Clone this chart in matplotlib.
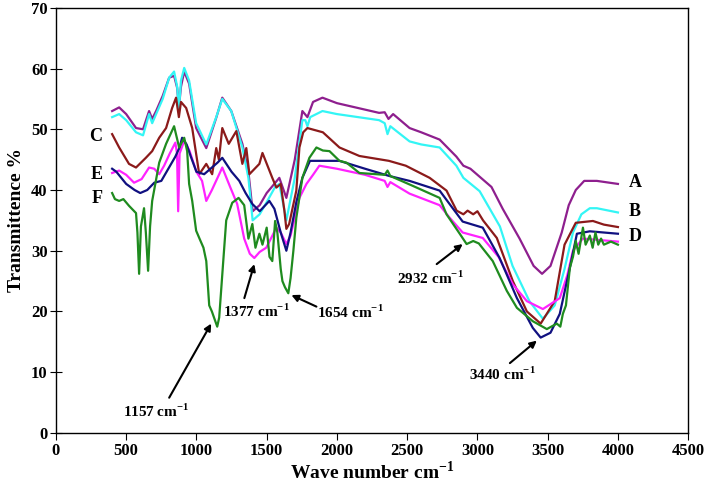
import matplotlib
matplotlib.use("Agg")
import matplotlib.pyplot as plt

plt.rcParams['font.family'] = ['Liberation Serif', 'DejaVu Serif']
plt.rcParams['font.weight'] = 'bold'
plt.rcParams['mathtext.fontset'] = 'custom'
plt.rcParams['mathtext.rm'] = 'Liberation Serif:bold'
plt.rcParams['mathtext.bf'] = 'Liberation Serif:bold'

# spectra: (wavenumber, transmittance %)
wn_A = [400, 450, 500, 570, 620, 663, 685, 713, 760, 806, 841, 863, 875, 890, 913, 948, 998, 1070, 1141, 1184,
        1248, 1327, 1370, 1400, 1450, 1500, 1590, 1640, 1700, 1754, 1790, 1830, 1897, 2000, 2150, 2300, 2340,
        2367, 2400, 2517, 2600, 2731, 2850, 2900, 2950, 3000, 3100, 3180, 3300, 3400, 3460, 3520, 3600, 3650,
        3700, 3760, 3850, 4000]
t_A = [53.0, 53.6, 52.5, 50.2, 50.0, 53.0, 51.7, 53.0, 55.5, 58.5, 58.8, 56.8, 53.5, 57.0, 59.5, 57.5, 50.2,
       46.9, 51.9, 55.2, 53.0, 47.6, 43.0, 36.5, 37.5, 39.5, 42.0, 38.7, 45.0, 53.0, 52.0, 54.5, 55.2, 54.3, 53.5,
       52.7, 52.8, 51.7, 52.5, 50.2, 49.5, 48.3, 45.5, 44.0, 43.5, 42.5, 40.5, 36.9, 32.0, 27.5, 26.2, 27.5, 33.0,
       37.5, 40.0, 41.5, 41.5, 41.0]

wn_B = [400, 450, 500, 570, 620, 663, 685, 713, 760, 806, 841, 863, 875, 890, 913, 948, 998, 1070, 1141, 1184,
        1248, 1327, 1370, 1400, 1450, 1500, 1560, 1590, 1640, 1700, 1754, 1775, 1790, 1810, 1897, 2000, 2150,
        2300, 2340, 2360, 2380, 2517, 2600, 2731, 2850, 2900, 3016, 3160, 3250, 3370, 3466, 3550, 3620, 3680,
        3740, 3800, 3850, 4000]
t_B = [52.0, 52.5, 51.5, 49.5, 49.0, 52.5, 51.0, 52.5, 55.0, 58.5, 59.5, 57.0, 53.0, 58.0, 60.1, 58.0, 51.0,
       47.5, 52.0, 55.0, 53.0, 47.0, 42.0, 35.0, 36.0, 38.0, 40.5, 41.0, 35.0, 42.0, 51.5, 51.5, 50.5, 52.0, 53.0,
       52.5, 52.0, 51.5, 51.0, 49.2, 50.5, 48.0, 47.5, 47.0, 44.0, 42.0, 39.8, 34.0, 27.5, 21.7, 18.8, 21.0, 27.0,
       33.0, 36.0, 37.0, 37.0, 36.3]

wn_C = [400, 450, 520, 570, 640, 685, 735, 784, 827, 855, 875, 890, 927, 970, 1020, 1070, 1112, 1141, 1160, 1184,
        1230, 1284, 1327, 1355, 1377, 1448, 1470, 1540, 1569, 1600, 1626, 1640, 1660, 1711, 1733, 1760, 1790,
        1900, 2018, 2160, 2370, 2490, 2660, 2780, 2852, 2900, 2930, 2970, 3000, 3040, 3138, 3252, 3352, 3450,
        3550, 3620, 3700, 3822, 3900, 4000]
t_C = [49.2, 47.0, 44.3, 43.7, 45.3, 46.4, 48.6, 50.2, 53.5, 55.2, 52.0, 54.5, 53.5, 50.2, 42.6, 44.3, 42.6,
       46.9, 45.0, 50.2, 47.6, 49.7, 44.3, 46.9, 42.6, 44.3, 46.1, 42.0, 40.4, 41.0, 36.6, 33.6, 34.4, 39.9, 47.0,
       49.5, 50.2, 49.5, 47.0, 45.6, 44.8, 44.0, 42.0, 39.9, 36.6, 36.0, 36.6, 36.0, 36.5, 35.0, 32.1, 25.0, 20.0,
       18.0, 21.7, 31.0, 34.6, 34.9, 34.3, 33.9]

wn_D = [400, 430, 500, 560, 600, 650, 700, 750, 800, 850, 880, 898, 930, 960, 1000, 1055, 1100, 1150, 1184, 1250,
        1305, 1350, 1398, 1450, 1519, 1555, 1600, 1640, 1670, 1711, 1754, 1808, 1900, 2018, 2200, 2374, 2517,
        2731, 2824, 2895, 3038, 3158, 3281, 3394, 3450, 3520, 3586, 3658, 3708, 3800, 4000]
t_D = [43.5, 43.0, 41.0, 40.0, 39.5, 40.0, 41.2, 41.5, 43.5, 45.5, 47.0, 48.6, 47.5, 45.5, 43.0, 42.6, 43.5,
       44.5, 45.3, 43.0, 41.5, 39.5, 37.7, 36.5, 38.2, 36.9, 33.0, 30.0, 33.0, 38.0, 42.0, 44.8, 44.8, 44.8, 43.5,
       42.3, 41.5, 39.9, 37.0, 34.8, 33.8, 28.8, 22.2, 17.3, 15.7, 16.5, 19.6, 27.2, 32.8, 33.2, 32.8]

wn_E = [400, 450, 500, 556, 610, 663, 700, 735, 770, 810, 850, 862, 870, 880, 913, 950, 1000, 1040, 1070, 1110,
        1150, 1184, 1240, 1290, 1340, 1380, 1412, 1450, 1497, 1530, 1569, 1600, 1640, 1670, 1733, 1783, 1830,
        1875, 2000, 2200, 2340, 2360, 2380, 2517, 2731, 2800, 2895, 3038, 3150, 3251, 3352, 3466, 3586, 3640,
        3680, 3750, 3900, 4000]
t_E = [42.8, 43.2, 42.5, 41.2, 41.8, 43.7, 43.5, 42.6, 44.0, 46.0, 47.8, 46.0, 36.5, 46.0, 48.1, 46.5, 43.0,
       41.5, 38.2, 40.0, 42.0, 43.7, 40.5, 37.7, 32.0, 29.5, 28.8, 29.8, 30.5, 32.0, 33.8, 33.0, 31.1, 32.5, 38.7,
       41.0, 42.5, 44.0, 43.5, 42.5, 41.5, 40.5, 41.3, 39.4, 37.5, 35.5, 33.0, 32.1, 29.0, 24.5, 21.7, 20.4, 22.2,
       26.0, 30.0, 32.0, 31.7, 31.5]

wn_F = [400, 420, 450, 480, 520, 570, 580, 592, 605, 627, 640, 656, 670, 685, 735, 784, 841, 877, 913, 934, 948,
        970, 998, 1020, 1050, 1070, 1091, 1110, 1148, 1162, 1190, 1212, 1255, 1300, 1340, 1370, 1398, 1420, 1448,
        1470, 1500, 1520, 1540, 1560, 1576, 1600, 1612, 1630, 1654, 1670, 1690, 1711, 1754, 1804, 1854, 1900,
        1947, 2018, 2068, 2160, 2340, 2360, 2380, 2538, 2731, 2780, 2874, 2923, 2970, 3010, 3109, 3209, 3281,
        3394, 3494, 3565, 3590, 3608, 3630, 3658, 3680, 3700, 3720, 3751, 3770, 3800, 3820, 3840, 3860, 3880,
        3900, 3950, 4000]
t_F = [39.5, 38.5, 38.2, 38.5, 37.4, 36.2, 33.0, 26.2, 34.0, 37.0, 33.0, 26.7, 34.0, 38.2, 44.5, 47.6, 50.5,
       47.0, 48.6, 46.4, 41.0, 38.2, 33.3, 32.1, 30.5, 28.3, 21.0, 20.0, 17.5, 19.0, 28.0, 35.0, 37.9, 38.7, 37.5,
       32.0, 34.4, 30.5, 32.8, 31.0, 33.8, 29.0, 28.3, 34.9, 33.0, 27.0, 25.0, 24.0, 23.0, 25.5, 30.0, 35.4, 42.0,
       45.3, 47.0, 46.5, 46.4, 44.8, 44.5, 42.8, 42.5, 43.2, 42.3, 40.7, 38.7, 36.0, 32.8, 31.1, 31.6, 31.2, 28.3,
       23.4, 20.6, 18.4, 17.1, 18.0, 17.5, 19.6, 21.0, 27.2, 29.0, 31.6, 29.5, 33.8, 31.0, 32.5, 30.5, 33.0, 31.0,
       32.0, 31.0, 31.5, 31.0]

fig = plt.figure(figsize=(7.08, 4.87), dpi=100)
ax = fig.add_axes([0.079, 0.111, 0.893, 0.873])

ax.plot(wn_A, t_A, color='#8E1F8E', lw=1.6)
ax.plot(wn_B, t_B, color='#33F5F5', lw=1.6)
ax.plot(wn_C, t_C, color='#8B1A1A', lw=1.6)
ax.plot(wn_E, t_E, color='#FF22FF', lw=1.6)
ax.plot(wn_D, t_D, color='#101080', lw=1.6)
ax.plot(wn_F, t_F, color='#1F8B1F', lw=1.6)

ax.set_xlim(0, 4500)
ax.set_ylim(0, 70)
ax.set_xticks(range(0, 4501, 500))
ax.set_yticks(range(0, 71, 10))
ax.tick_params(axis='x', direction='out', length=5, labelsize=12, pad=2)
ax.tick_params(axis='y', direction='inout', length=8, labelsize=12, pad=2)
for s in ax.spines.values():
    s.set_linewidth(1.0)

ax.set_xlabel('Wave number cm$^{-1}$', fontsize=14, fontweight='bold', labelpad=1)
ax.set_ylabel('Transmittence %', fontsize=14, fontweight='bold', labelpad=4)

# curve letters
for lbl, x, y in [('A', 4075, 41.3), ('B', 4075, 36.4), ('D', 4075, 32.3)]:
    ax.text(x, y, lbl, fontsize=13, fontweight='bold', ha='left', va='center')
for lbl, x, y in [('C', 330, 48.8), ('E', 330, 42.5), ('F', 330, 38.6)]:
    ax.text(x, y, lbl, fontsize=13, fontweight='bold', ha='right', va='center')

# peak annotations
arrow = dict(arrowstyle='-|>', color='black', lw=1.5, mutation_scale=10, shrinkA=0, shrinkB=0)
ax.annotate('', xy=(1105, 18.0), xytext=(806, 5.8), arrowprops=arrow)
ax.text(713, 3.6, '1157 cm$^{-1}$', fontsize=11, fontweight='bold', ha='center', va='center')
ax.annotate('', xy=(1412, 27.8), xytext=(1341, 22.2), arrowprops=arrow)
ax.text(1426, 20.1, '1377 cm$^{-1}$', fontsize=11, fontweight='bold', ha='center', va='center')
ax.annotate('', xy=(1676, 22.7), xytext=(1854, 20.8), arrowprops=arrow)
ax.text(2097, 19.8, '1654 cm$^{-1}$', fontsize=11, fontweight='bold', ha='center', va='center')
ax.annotate('', xy=(2895, 31.1), xytext=(2710, 27.8), arrowprops=arrow)
ax.text(2667, 25.5, '2932 cm$^{-1}$', fontsize=11, fontweight='bold', ha='center', va='center')
ax.annotate('', xy=(3423, 15.2), xytext=(3231, 11.5), arrowprops=arrow)
ax.text(3181, 9.7, '3440 cm$^{-1}$', fontsize=11, fontweight='bold', ha='center', va='center')

fig.savefig('out.png', dpi=100)
